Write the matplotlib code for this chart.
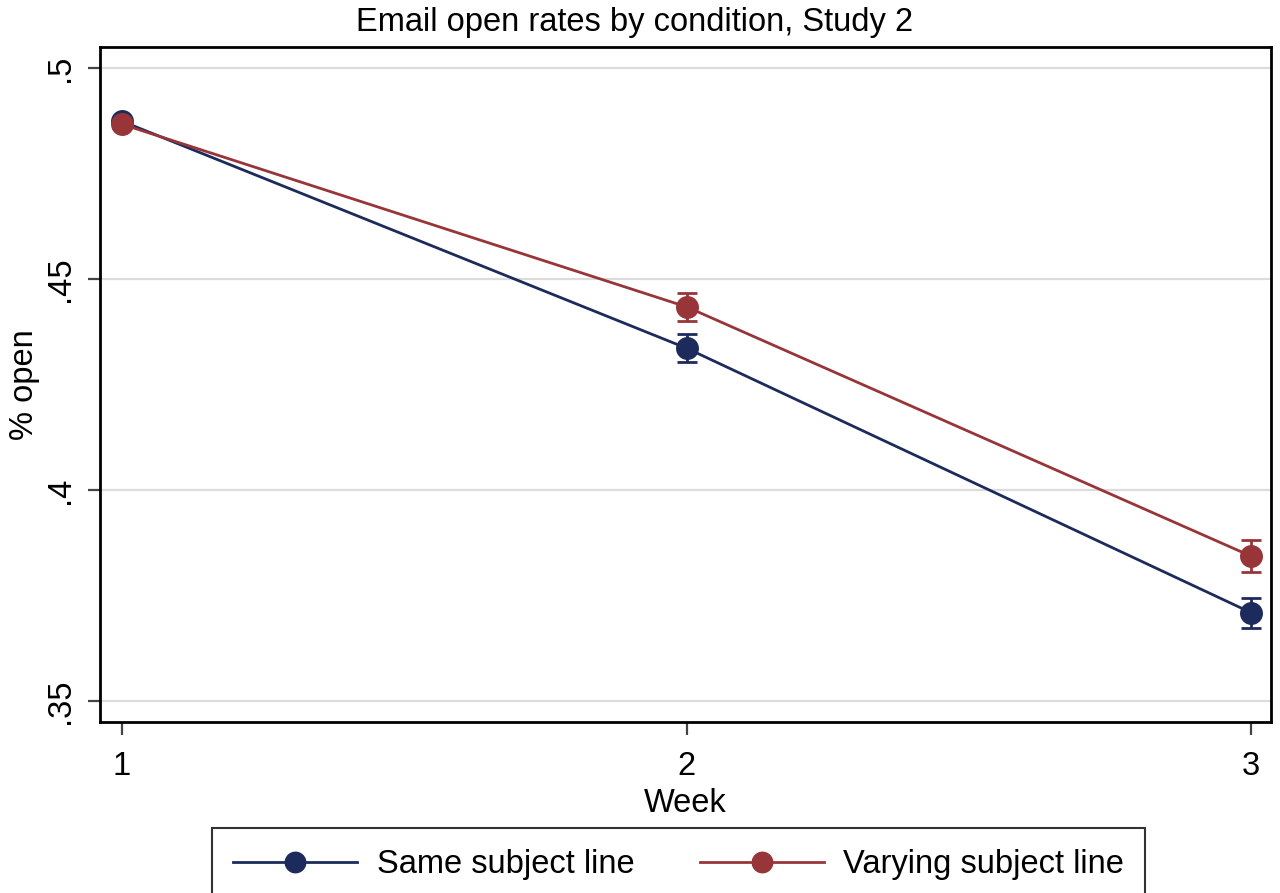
import matplotlib
matplotlib.use("Agg")
import matplotlib.pyplot as plt
from matplotlib.ticker import FixedLocator

weeks = [1, 2, 3]
same_vals = [0.4874, 0.4336, 0.3709]
same_err = [0.0008, 0.0033, 0.0036]
vary_vals = [0.4867, 0.4434, 0.3843]
vary_err = [0.0008, 0.0033, 0.0038]
series_labels = ["Same subject line", "Varying subject line"]
ytick_vals = [0.35, 0.4, 0.45, 0.5]
ytick_labels = [".35", ".4", ".45", ".5"]
xtick_vals = [1, 2, 3]

plt.rcParams['font.family'] = ['Liberation Sans', 'DejaVu Sans']

navy = "#1c2b5c"
maroon = "#983539"
FS = 23.5

fig = plt.figure(figsize=(12.8, 8.93), dpi=100)
ax = fig.add_axes([100/1280, (893-722)/893, (1271-100)/1280, (722-47)/893])

handles = []
for vals, err, col, lab in [(same_vals, same_err, navy, series_labels[0]),
                            (vary_vals, vary_err, maroon, series_labels[1])]:
    ax.errorbar(weeks, vals, yerr=err, fmt='none', ecolor=col, elinewidth=2.0,
                capsize=7, capthick=2.0, zorder=3)
    h, = ax.plot(weeks, vals, color=col, lw=2.0, marker='o', markersize=15.5,
                 markerfacecolor=col, markeredgecolor=col, label=lab, zorder=4)
    handles.append(h)

ax.set_xlim(0.961, 3.035)
ax.set_ylim(0.345, 0.505)
ax.yaxis.set_major_locator(FixedLocator(ytick_vals))
ax.set_yticklabels(ytick_labels, rotation=90, va='center', fontsize=FS)
ax.set_xticks(xtick_vals)
ax.set_xticklabels([str(w) for w in xtick_vals], fontsize=FS)
ax.grid(axis='y', color='#dcdcdc', lw=1.6)
ax.set_axisbelow(True)
for s in ax.spines.values():
    s.set_linewidth(2)
    s.set_color('black')
ax.tick_params(axis='x', direction='out', length=9, width=1.6, color='#444444', pad=12)
ax.tick_params(axis='y', direction='out', length=9, width=1.6, color='#444444', pad=8)

ax.set_xlabel("Week", fontsize=FS, labelpad=4)
ax.set_ylabel("% open", fontsize=FS, labelpad=4)
fig.text(635/1280, 1 - 22/893, "Email open rates by condition, Study 2", ha='center', va='center', fontsize=FS)

leg = fig.legend(handles=handles, labels=series_labels, loc='upper left',
                 bbox_to_anchor=(212/1280, (893-828)/893), ncol=2, fontsize=FS,
                 frameon=True, fancybox=False, edgecolor='black', handlelength=3.8,
                 borderpad=0.65, borderaxespad=0, columnspacing=2.0, handletextpad=0.6,
                 markerscale=0.95)
leg.get_frame().set_linewidth(1.5)

fig.savefig("out.png", dpi=100)
